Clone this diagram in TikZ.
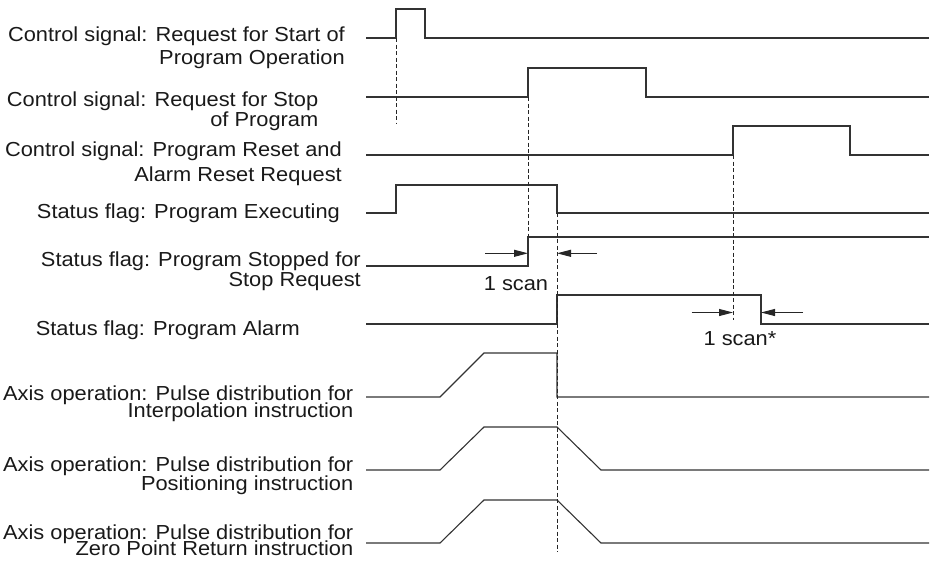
\documentclass[tikz,border=0pt]{standalone}
\usepackage{fontspec}
\setmainfont{Liberation Sans}[FakeStretch=1.075]
\usetikzlibrary{arrows.meta}
\begin{document}
\begin{tikzpicture}[x=1pt,y=-1pt,
  wave/.style={line width=1.1pt, draw=black!80, line join=miter},
  guide/.style={line width=1pt, draw=black!85, dash pattern=on 4pt off 2.5pt},
  lbl/.style={font=\fontsize{20.3}{20}\selectfont, anchor=base east, inner sep=0pt, text=black!90},
  scanarrow/.style={line width=1pt, draw=black!85, -{Triangle[length=14pt,width=7pt]}},
  scanlbl/.style={font=\fontsize{20.3}{20}\selectfont, anchor=base, inner sep=0pt, text=black!90}]
\useasboundingbox (0,0) rectangle (930,563);

% labels
\node[lbl] (l1a) at (345,41.7) {Control signal: Request for Start of};
\node[lbl] (l1b) at (345,64.3) {Program Operation};
\node[lbl] (l2a) at (318.5,106) {Control signal: Request for Stop};
\node[lbl] (l2b) at (318.5,126.7) {of Program};
\node[lbl] (l3a) at (342,156.7) {Control signal: Program Reset and};
\node[lbl] (l3b) at (342,181.7) {Alarm Reset Request};
\node[lbl] (l4) at (340,218.3) {Status flag: Program Executing};
\node[lbl] (l5a) at (361,266.7) {Status flag: Program Stopped for};
\node[lbl] (l5b) at (361,286.7) {Stop Request};
\node[lbl] (l6) at (300,335) {Status flag: Program Alarm};
\node[lbl] (l7a) at (353.5,400) {Axis operation: Pulse distribution for};
\node[lbl] (l7b) at (353.5,417.5) {Interpolation instruction};
\node[lbl] (l8a) at (353.5,471.7) {Axis operation: Pulse distribution for};
\node[lbl] (l8b) at (353.5,490.7) {Positioning instruction};
\node[lbl] (l9a) at (353.5,539.5) {Axis operation: Pulse distribution for};
\node[lbl] (l9b) at (353.5,555.5) {Zero Point Return instruction};

% waveforms
\draw[wave] (366,38) -- (396,38) -- (396,9) -- (425,9) -- (425,38) -- (929,38);
\draw[wave] (366,97) -- (528,97) -- (528,68) -- (646,68) -- (646,97) -- (929,97);
\draw[wave] (366,155) -- (733,155) -- (733,126) -- (850,126) -- (850,155) -- (929,155);
\draw[wave] (366,213) -- (396,213) -- (396,185) -- (557,185) -- (557,213) -- (929,213);
\draw[wave] (366,266) -- (528,266) -- (528,237) -- (929,237);
\draw[wave] (366,324) -- (557,324) -- (557,295) -- (761,295) -- (761,324) -- (929,324);
\draw[wave] (366,397) -- (440,397) -- (484,353) -- (557,353) -- (557,397) -- (929,397);
\draw[wave] (366,470) -- (440,470) -- (484,427) -- (557,427) -- (601,470) -- (929,470);
\draw[wave] (366,543) -- (440,543) -- (484,500) -- (557,500) -- (601,543) -- (929,543);

% guide lines
\coordinate (g1t) at (396,38);  \coordinate (g1b) at (396,124);
\coordinate (g2t) at (528,97);  \coordinate (g2b) at (528,237);
\coordinate (g3t) at (557,213); \coordinate (g3b) at (557,552);
\coordinate (g4t) at (733,155); \coordinate (g4b) at (733,320);
\draw[guide] (g1t) -- (g1b);
\draw[guide] (g2t) -- (g2b);
\draw[guide] (g3t) -- (g3b);
\draw[guide] (g4t) -- (g4b);

% 1 scan arrows
\coordinate (a1s) at (485,253.3); \coordinate (a1e) at (528,253.3);
\coordinate (a2s) at (597,253.3); \coordinate (a2e) at (557,253.3);
\draw[scanarrow] (a1s) -- (a1e);
\draw[scanarrow] (a2s) -- (a2e);
\node[scanlbl] (scan1) at (516,290) {1 scan};

\coordinate (b1s) at (691.7,312.5); \coordinate (b1e) at (733,312.5);
\coordinate (b2s) at (803,312.5);   \coordinate (b2e) at (761,312.5);
\draw[scanarrow] (b1s) -- (b1e);
\draw[scanarrow] (b2s) -- (b2e);
\node[scanlbl] (scan2) at (740,345) {1 scan*};
\end{tikzpicture}
\end{document}
